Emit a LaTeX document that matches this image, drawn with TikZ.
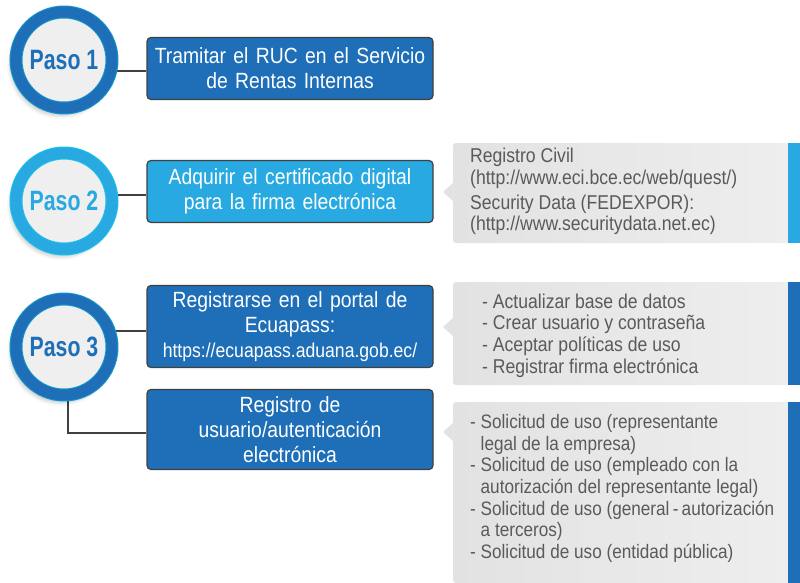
\documentclass[tikz,border=0pt]{standalone}
\usepackage{fontspec}
\setmainfont{Liberation Sans}[FakeStretch=0.88]
\newfontfamily\pasofont{Liberation Sans}[FakeStretch=0.76]
\usepackage{tikz}
\usetikzlibrary{backgrounds,shadows.blur}
\definecolor{azul}{HTML}{1E6FB8}
\definecolor{celeste}{HTML}{29A9E1}
\definecolor{blanco}{HTML}{EFEFEF}
\definecolor{linea}{HTML}{404040}
\definecolor{texto}{HTML}{5A5A5A}
\definecolor{grisA}{HTML}{E2E2E2}
\definecolor{grisB}{HTML}{EEEEEE}

\begin{document}
\begin{tikzpicture}[x=1pt, y=-1pt,
  paso/.style={circle, minimum size=96pt, fill=blanco, draw=#1!70!cyan, line width=1pt,
    double=#1, double distance=11pt, text=#1,
    font={\pasofont\bfseries\fontsize{28}{30}\selectfont},
    blur shadow={shadow xshift=-3pt, shadow yshift=-5pt, shadow blur radius=6pt, shadow opacity=45}},
  box/.style={draw=linea, line width=1.2pt, rounded corners=4pt, minimum width=286pt,
    text width=272pt, align=center, text=white, font={\fontsize{22}{25}\selectfont}},
  info/.style={anchor=north west, inner sep=0pt, align=left, text=texto,
    font={\fontsize{20}{21.7}\selectfont}},
  link/.style={draw=linea, line width=1.5pt},
  panel/.style={left color=grisA, right color=grisB, rounded corners=3pt}
]
\useasboundingbox (0,0) rectangle (800,583);

% pasos
\node[paso=azul] (p1) at (64,60) {Paso 1};
\node[paso=celeste] (p2) at (64,201) {Paso 2};
\node[paso=azul] (p3) at (64,347) {Paso 3};

% cajas
\node[box, fill=azul, minimum height=62pt] (b1) at (290,68.5)
  {Tramitar el RUC en el Servicio\\de Rentas Internas};
\node[box, fill=celeste, minimum height=62pt] (b2) at (290,191.5)
  {Adquirir el certificado digital\\para la firma electrónica};
\node[box, fill=azul, minimum height=82pt] (b3) at (290,326.5)
  {Registrarse en el portal de\\Ecuapass:\\{\fontsize{20}{25}\selectfont https://ecuapass.aduana.gob.ec/}};
\node[box, fill=azul, minimum height=80pt] (b4) at (290,429.5)
  {Registro de\\usuario/autenticación\\electrónica};

\begin{scope}[on background layer]
  \draw[link] ([yshift=-2.5pt]b1.west) -- ++(-40,0);
  \draw[link] ([yshift=-3.5pt]b2.west) -- ++(-40,0);
  \draw[link] ([yshift=-4.5pt]b3.west) -- ++(-40,0);
  \draw[link] ([xshift=4pt]p3.center) |- ([yshift=-3.5pt]b4.west);
\end{scope}

% paneles grises
\foreach \ya/\yb/\yp/\col in {143/243/192/celeste, 282/385/327/azul, 402/583/432/azul} {
  \fill[grisA] (454,\yp-10) -- (443,\yp) -- (454,\yp+10) -- cycle;
  \shade[panel] (453,\ya) rectangle (790,\yb);
  \fill[\col] (788,\ya) rectangle (800,\yb);
}

\node[info] (t1) at (470,148)
  {Registro Civil\\(http://www.eci.bce.ec/web/quest/)\\[3pt]Security Data (FEDEXPOR):\\(http://www.securitydata.net.ec)};
\node[info] (t2) at (482,293.5)
  {- Actualizar base de datos\\- Crear usuario y contraseña\\- Aceptar políticas de uso\\- Registrar firma electrónica};
\node[info, font={\fontsize{19.5}{21.7}\selectfont}] (t3) at (470,414)
  {- Solicitud de uso (representante\\\hspace*{10.5pt}legal de la empresa)\\- Solicitud de uso (empleado con la\\\hspace*{10.5pt}autorización del representante legal)\\- Solicitud de uso (general\,-\,autorización\\\hspace*{10.5pt}a terceros)\\- Solicitud de uso (entidad pública)};
\end{tikzpicture}
\end{document}
